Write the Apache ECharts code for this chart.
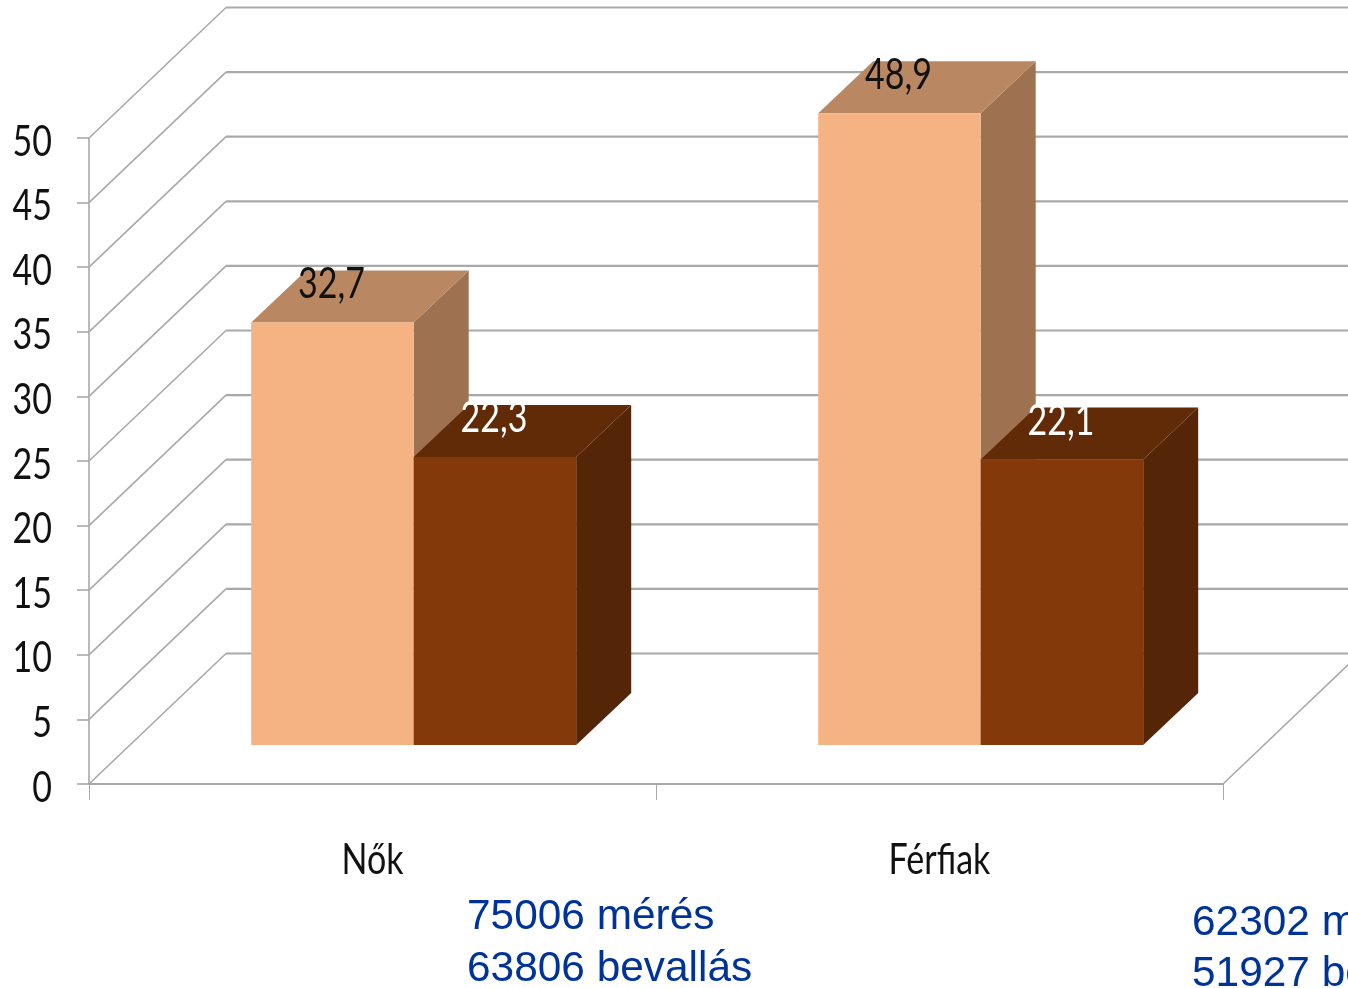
<!DOCTYPE html>
<html>
<head>
<meta charset="utf-8">
<style>html,body{margin:0;padding:0;background:#fff;overflow:hidden}#c{width:1348px;height:988px}</style>
<script src="https://cdn.jsdelivr.net/npm/echarts@6/dist/echarts.min.js"></script>
</head>
<body>
<div id="c"></div>
<script>
const categories = ['Nők', 'Férfiak'];
const seriesMeres = [32.7, 48.9];
const seriesBevallas = [22.3, 22.1];
const yTicks = [0, 5, 10, 15, 20, 25, 30, 35, 40, 45, 50];
const notes = [
  ['75006 mérés', '63806 bevallás'],
  ['62302 mérés', '51927 bevallás']
];
const labelFont = '42px Lato,"Open Sans",sans-serif';
const narrow = 0.81;
const gridColor = '#a9a9a9';
const W = 1348;
const depth = { x: 137, y: 130.5 };
const floor = { x: 41.2, y: 39 };
const barDepth = { x: 55, y: 52 };
const barRatio = 0.2866;

const fmt = v => String(v).replace('.', ',');

function narrowText(text, x, y, align, fill) {
  return {
    type: 'text', x: x, y: y, scaleX: narrow, silent: true,
    style: { text: text, fill: fill, font: labelFont, align: align, verticalAlign: 'middle' }
  };
}

function wallItem(params, api) {
  const v = api.value(0);
  const p = api.coord([0, v]);
  const x0 = params.coordSys.x;
  const bx = x0 + depth.x;
  const by = p[1] - depth.y;
  return {
    type: 'group',
    silent: true,
    children: [
      { type: 'line', shape: { x1: x0, y1: p[1], x2: bx, y2: by }, style: { stroke: gridColor, lineWidth: 1.6 } },
      { type: 'line', shape: { x1: bx, y1: by, x2: W + 10, y2: by }, style: { stroke: gridColor, lineWidth: 2.2 } },
      narrowText(String(v), x0 - 37, p[1] + 4, 'right', '#111111')
    ]
  };
}

function floorItem(params, api) {
  const cs = params.coordSys;
  const x1 = cs.x + cs.width;
  const y0 = cs.y + cs.height;
  return {
    type: 'line',
    silent: true,
    shape: { x1: x1, y1: y0, x2: x1 + depth.x, y2: y0 - depth.y },
    style: { stroke: gridColor, lineWidth: 1.6 }
  };
}

function categoryItem(params, api) {
  const p = api.coord([api.value(0), 0]);
  return narrowText(categories[api.value(0)], p[0], p[1] + 76, 'center', '#111111');
}

function barRenderer(side, colors, textColor) {
  return function (params, api) {
    const c = api.value(0);
    const v = api.value(1);
    const band = api.size([1, 0])[0];
    const w = band * barRatio;
    const center = api.coord([c, 0])[0] + floor.x;
    const xl = side === 0 ? center - w : center;
    const xr = xl + w;
    const yb = api.coord([c, 0])[1] - floor.y;
    const yt = api.coord([c, v])[1] - floor.y;
    const dx = barDepth.x, dy = barDepth.y;
    return {
      type: 'group',
      children: [
        { type: 'polygon', shape: { points: [[xr, yt], [xr + dx, yt - dy], [xr + dx, yb - dy], [xr, yb]] }, style: { fill: colors.side } },
        { type: 'polygon', shape: { points: [[xl, yt], [xl + dx, yt - dy], [xr + dx, yt - dy], [xr, yt]] }, style: { fill: colors.top } },
        { type: 'rect', shape: { x: xl, y: yt, width: w, height: yb - yt }, style: { fill: colors.front } },
        narrowText(fmt(v), (xl + xr) / 2 - 1, yt - 38, 'center', textColor)
      ]
    };
  };
}

const chart = echarts.init(document.getElementById('c'), null, { renderer: 'canvas', width: 1348, height: 988 });
const noteStyle = { font: '42.4px "Liberation Sans",Arial,sans-serif', fill: '#003399', verticalAlign: 'middle' };
chart.setOption({
  animation: false,
  backgroundColor: '#ffffff',
  grid: { left: 89, right: 125, top: 138, bottom: 204, containLabel: false },
  xAxis: {
    type: 'category',
    data: categories,
    axisLine: { lineStyle: { color: gridColor, width: 2.2 } },
    axisTick: { show: true, length: 16, lineStyle: { color: gridColor, width: 1 } },
    axisLabel: { show: false },
    splitLine: { show: false }
  },
  yAxis: {
    type: 'value',
    min: 0,
    max: 50,
    interval: 5,
    axisLine: { show: true, lineStyle: { color: gridColor, width: 1.6 } },
    axisTick: { show: true, length: 12, lineStyle: { color: gridColor, width: 1.6 } },
    axisLabel: { show: false },
    splitLine: { show: false }
  },
  series: [
    { type: 'custom', name: 'wall', clip: false, silent: true, z: 1, renderItem: wallItem, data: yTicks.map(v => [v]), encode: { y: 0 } },
    { type: 'custom', name: 'floor', clip: false, silent: true, z: 1, renderItem: floorItem, data: [[0]] },
    { type: 'custom', name: 'categories', clip: false, silent: true, z: 1, renderItem: categoryItem, data: categories.map((c, i) => [i]), encode: { x: 0 } },
    {
      type: 'custom', name: 'mérés', clip: false, z: 2,
      renderItem: barRenderer(0, { front: '#F5B283', top: '#B98762', side: '#9E7150' }, '#111111'),
      data: seriesMeres.map((v, i) => [i, v]), encode: { x: 0, y: 1 }
    },
    {
      type: 'custom', name: 'bevallás', clip: false, z: 3,
      renderItem: barRenderer(1, { front: '#84390B', top: '#622B08', side: '#542507' }, '#ffffff'),
      data: seriesBevallas.map((v, i) => [i, v]), encode: { x: 0, y: 1 }
    }
  ],
  graphic: [
    { type: 'text', x: 467, y: 917, style: Object.assign({ text: notes[0][0] }, noteStyle) },
    { type: 'text', x: 467, y: 969, style: Object.assign({ text: notes[0][1] }, noteStyle) },
    { type: 'text', x: 1192, y: 923, style: Object.assign({ text: notes[1][0] }, noteStyle) },
    { type: 'text', x: 1192, y: 974, style: Object.assign({ text: notes[1][1] }, noteStyle) }
  ]
});
</script>
</body>
</html>
